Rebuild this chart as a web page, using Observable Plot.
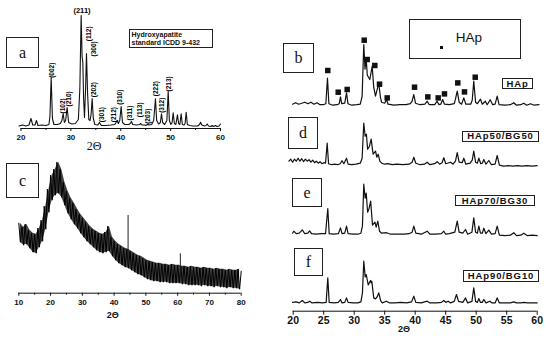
<!DOCTYPE html>
<html><head><meta charset="utf-8">
<script src="https://cdn.jsdelivr.net/npm/d3@7"></script>
<script src="https://cdn.jsdelivr.net/npm/@observablehq/plot@0.6"></script>
<style>
body{margin:0;background:#fff;}
#fig{position:relative;width:550px;height:338px;overflow:hidden;background:#fff;font-family:Arial,"Liberation Sans",sans-serif;color:#111;}
.box{position:absolute;border:1px solid #222;box-sizing:border-box;display:flex;align-items:center;justify-content:center;background:#fff;}
.let{font-family:"Liberation Serif","DejaVu Serif",serif;font-size:16px;line-height:1;}
.tag{position:absolute;border:1px solid #222;box-sizing:border-box;display:flex;align-items:center;justify-content:center;font-weight:bold;font-size:9.5px;letter-spacing:0.9px;background:#fff;line-height:1;}
.lab{position:absolute;transform:translate(-50%,-50%);white-space:nowrap;line-height:1;}
</style></head><body><div id="fig"></div>
<script>
// ---------- DATA ----------
// Panel a: Hydroxyapatite standard ICDD 9-432 (2θ, intensity a.u.)
const patternA = [[19.6,2.5],[20.3,3.5],[21.0,2.5],[21.6,3.5],[22.0,10],[22.35,3.5],[22.8,3.5],[23.1,8],[23.4,3],[24.2,3.5],[25.0,3],[25.6,4],[25.8,12],[26.05,51],[26.3,10],[26.6,4],[27.3,4],[27.9,5],[28.2,8],[28.45,15],[28.7,6],[28.95,8],[29.25,21],[29.55,6],[30.2,4.5],[30.9,5],[31.5,9],[31.8,40],[32.06,113],[32.25,72],[32.4,66],[32.55,30],[32.73,11],[32.95,40],[33.13,75],[33.35,35],[33.6,9],[33.85,8],[34.05,14],[34.27,30],[34.5,10],[34.8,4],[35.4,3.5],[35.74,6],[36.1,3],[37.0,3],[38.0,3.5],[38.8,4],[39.05,6],[39.28,8],[39.5,5],[39.8,8],[40.08,22],[40.35,6],[40.8,4],[41.6,4],[41.9,5],[42.15,7],[42.4,4],[43.2,3.5],[43.8,4],[44.02,5],[44.25,3.5],[44.8,3.5],[45.0,3],[45.2,3.5],[45.42,4.5],[45.65,3.5],[46.2,4],[46.6,8],[46.96,29.7],[47.2,8],[47.6,4.5],[47.95,6],[48.17,14.7],[48.4,6],[48.8,4],[49.25,8],[49.51,37],[49.75,8],[50.05,4],[50.3,6],[50.51,15.7],[50.75,5],[51.05,4],[51.37,13.7],[51.6,5],[51.85,4],[52.11,14.7],[52.35,4],[52.7,3.5],[52.9,5],[53.12,16.3],[53.35,4],[53.8,3],[54.5,2.5],[55.4,2.5],[55.8,4],[56.0,6.3],[56.25,3.5],[56.8,2.5],[57.1,3],[57.33,4.5],[57.6,2.5],[58.1,2],[58.33,3],[58.6,2],[58.8,2.5],[59.0,3],[59.3,2],[59.7,2.5],[60.0,4.5]];
const hklLabels = ["(002)","(102)","(210)","(112)","(300)","(202)","(301)","(212)","(310)","(311)","(113)","(203)","(222)","(312)","(213)"];
const hklTheta  = [26.17,28.46,29.66,33.59,34.68,34.6,36.14,38.6,39.75,41.85,43.86,45.36,47.07,48.27,49.71];
const hklLevel  = [50.7,15,22,87.3,72,31.3,6.3,6.3,23.7,8,11.3,4.7,32.3,15.7,37];
const mainLabel = {lab:"(211)", t:32.23, lv:118};
const ticksA = [20,30,40,50,60];
const minorA = [25,35,45,55];

// Panel c: glass (BG) amorphous pattern, upper / lower noise envelope
const cTopDeg = d3.range(10, 81, 1);
const cTop = [70,66,69,63,60,59,65,73,87,104, 118,124,131,124,111,102,95,90,84,79, 75,71,67,64,62,60,59,61,67,56, 52,49,47,45,44,42,40,38,37,35, 33,32,31,30,30,29,29,28,29,28, 28,27,27,26,27,26,26,25,26,25, 25,24,25,24,24,23,24,23,23,24,22];
const cBotDeg = d3.range(10.5, 80, 1);
const cBot = [51,48,49,45,41,40,46,52,64,81, 93,98,100,96,88,80,74,69,65,60, 56,52,49,46,43,41,40,41,42,37, 33,30,28,26,25,23,21,19,18,16, 14,13,12,12,11,11,11,10,10,10, 10,9,9,8,8,8,8,7,8,7, 7,6,7,6,6,5,6,5,5,4];
const cSpikeTheta = [22.07,38.3,44.4,60.85];
const cSpikeLow   = [100,45,28,15];
const cSpikeHigh  = [128.7,61,77.7,39.4];
const ticksC = [10,20,30,40,50,60,70,80];
const minorC = [15,25,35,45,55,65,75];

// Panels b, d, e, f (2θ, intensity above own baseline)
const sampleNames = ["HAp","HAp50/BG50","HAp70/BG30","HAp90/BG10"];
const sampleOffset = [206,147,77,8.3];
const patternB = [[19.9,1],[20.4,2.5],[20.9,1],[21.4,2],[21.9,3],[22.4,1.5],[22.9,3],[23.4,1],[23.9,2.5],[24.4,0.5],[24.9,0.5],[25.35,1.5],[25.62,27],[25.85,1.5],[26.5,0],[27.2,0.5],[27.55,1.5],[27.75,8.3],[27.95,1.5],[28.45,2],[28.74,12.3],[28.98,1.5],[29.6,0],[30.4,0.5],[31.0,1],[31.3,9],[31.57,60.7],[31.77,36],[31.97,46],[32.15,30],[32.56,25.7],[32.95,39],[33.2,18],[33.49,9],[34.03,22],[34.3,8],[34.48,3],[35.0,2],[35.3,5.7],[35.55,1],[36.5,0],[37.5,0.5],[38.5,0.5],[39.2,1.5],[39.5,4],[39.77,10.7],[40.05,2],[40.8,0.5],[41.6,1],[41.97,4],[42.3,0.5],[43.2,0.5],[43.6,4],[43.9,0.5],[44.2,1],[44.5,5.7],[44.8,1],[45.6,0.5],[46.4,1.5],[46.6,6],[46.89,14],[47.2,3],[47.6,1],[47.97,7.3],[48.3,1],[49.1,1],[49.35,5],[49.6,24],[49.9,3],[50.2,1.5],[50.7,6],[51.0,1],[51.5,4],[51.8,0.5],[52.3,5.5],[52.7,0.5],[53.1,1],[53.44,9],[53.75,0.5],[54.7,0],[55.6,0.5],[56.16,2.5],[56.6,0],[57.3,0.5],[57.8,2],[58.3,0],[58.9,1.5],[59.5,0],[60.3,0.5]];
const patternD = [[19.3,3],[19.6,5],[19.9,2],[20.2,5],[20.5,3],[20.8,6],[21.1,3],[21.4,5.5],[21.7,2.5],[22.0,5],[22.3,3],[22.6,4.5],[22.9,2],[23.2,4],[23.5,1.5],[23.8,3],[24.1,1],[24.4,2.5],[24.7,0.5],[25.0,1.5],[25.3,1],[25.57,21],[25.8,0.5],[26.3,-0.5],[26.8,0],[27.3,-0.5],[27.7,0.5],[28.0,3.5],[28.3,0.5],[28.74,6],[29.0,0],[29.6,-0.5],[30.3,0],[31.0,1],[31.3,6],[31.57,41],[31.8,28],[32.0,30],[32.2,15],[32.5,18],[32.78,25],[33.1,10],[33.5,13],[33.7,7],[33.93,10],[34.2,3],[34.5,1],[35.0,0],[35.5,0.5],[36.2,-0.5],[37.0,0],[38.0,-0.5],[39.0,0],[39.5,2],[39.77,7],[40.1,1],[40.8,-0.5],[41.5,0],[41.97,2],[42.4,-0.5],[43.2,0.5],[43.6,2.5],[44.0,0],[44.4,1.5],[44.69,6.5],[45.0,0.5],[45.8,2],[46.2,0],[46.6,3],[46.89,11.5],[47.2,2],[47.7,1.5],[47.97,6],[48.3,0],[49.0,1],[49.35,4],[49.6,13],[49.9,2],[50.2,1],[50.43,6],[50.75,0.5],[51.0,1],[51.25,4.7],[51.6,0],[52.07,3.7],[52.5,-0.5],[53.1,0],[53.44,8.7],[53.8,-1],[54.5,-2],[55.3,-1.5],[56.0,-2],[56.8,-1.5],[57.5,-2],[58.3,-1.5],[59.2,-2],[60.0,-1.5]];
const patternE = [[19.9,1],[20.1,3],[20.5,0.5],[21.0,1],[21.5,4.3],[21.9,0.5],[22.4,1],[22.7,3.3],[23.0,0.5],[23.8,0],[24.6,0.5],[25.3,0.5],[25.67,25.7],[25.9,0.5],[26.6,0],[27.4,0.5],[27.75,6.3],[28.0,0.5],[28.45,1],[28.74,8],[29.0,0.5],[29.8,0],[30.6,0],[31.1,1],[31.35,8],[31.57,50],[31.8,36],[31.97,41],[32.2,22],[32.45,26],[32.7,33],[33.0,9],[33.4,12],[33.6,7],[33.87,13],[34.15,3],[34.5,1],[35.3,1.5],[36.0,0],[37.0,0],[38.2,0],[39.0,0.5],[39.5,2],[39.77,8],[40.1,1],[41.0,0],[41.97,3],[42.4,0],[43.3,0],[44.3,0.5],[44.69,3],[45.0,0],[45.6,0.5],[46.5,2],[46.89,13],[47.2,2],[47.8,1],[48.25,4.7],[48.6,0],[49.3,2],[49.6,16.3],[49.9,2],[50.2,1],[50.43,8],[50.7,1],[51.0,1],[51.25,6],[51.6,0.5],[52.07,4],[52.5,0],[53.1,0.5],[53.44,8],[53.8,-1],[54.7,-1.5],[55.6,-1],[56.16,1.5],[56.6,-1.5],[57.3,-1],[57.8,1],[58.4,-1.5],[59.2,-1],[60.0,-1.5]];
const patternF = [[19.9,0.5],[20.5,1],[21.0,0],[21.5,2.4],[21.9,0],[22.4,0.5],[22.7,1.7],[23.1,0],[24.0,0.5],[24.8,0],[25.4,0.5],[25.67,25],[25.9,0.5],[26.7,0],[27.4,0.5],[27.75,3.4],[28.0,0],[28.45,0.5],[28.74,5],[29.0,0.5],[29.8,0],[30.6,0],[31.1,1],[31.35,10],[31.57,41.7],[31.8,26],[31.97,28.4],[32.3,18],[32.67,22.4],[32.78,20],[32.89,21.7],[33.2,5],[33.5,4],[33.75,6],[34.03,10],[34.35,2],[34.6,0],[35.3,1.7],[35.8,0],[36.7,0],[37.6,0.5],[38.6,0],[39.4,1],[39.77,6.7],[40.1,0.5],[41.0,0],[41.97,1.7],[42.4,0],[43.5,0],[44.3,0.5],[44.69,2.4],[45.0,0.5],[45.41,1.7],[45.8,0],[46.4,1.5],[46.77,8.4],[47.1,1.5],[47.8,0.5],[48.25,5],[48.6,0],[49.3,1.5],[49.6,15],[49.9,1.5],[50.2,0.5],[50.43,4.4],[50.7,0.5],[51.0,0.5],[51.25,3.4],[51.6,0],[52.23,1.7],[52.6,0],[53.1,0],[53.44,5],[53.8,0],[54.7,0],[55.6,0],[56.16,1],[56.6,0],[57.3,0],[57.8,0.5],[58.4,0],[59.2,0],[60.0,0]];
const hapMarkerTheta = [25.67,27.38,28.85,31.64,32.13,33.38,34.15,35.41,39.89,42.07,43.77,44.8,46.98,48.08,49.84];
const hapMarkerLevel = [34.7,13,15.7,65,45.7,39.7,21,7.3,18,8.3,7.3,11.3,22.3,13.3,28];
const ticksR = [20,25,30,35,40,45,50,55,60];

// ---------- BUILD ----------
const fig = document.getElementById("fig");
function put(node, left, top){ node.style.position="absolute"; node.style.left=left+"px"; node.style.top=top+"px"; fig.appendChild(node); return node; }
function html(tag, cls, text, css){ const n=document.createElement(tag); if(cls) n.className=cls; if(text!=null) n.textContent=text; Object.assign(n.style, css||{}); fig.appendChild(n); return n; }
const baseStyle = {fontFamily:"Arial, 'Liberation Sans', sans-serif", fontWeight:"bold", background:"transparent", overflow:"visible", color:"#111"};

// Panel a
const aRows = patternA.map(([t,h]) => ({t,h}));
const hklRows = hklLabels.map((lab,i) => ({lab, t:hklTheta[i], lv:hklLevel[i]}));
const plotA = Plot.plot({
  width: 240, height: 150, marginLeft: 20.5, marginRight: 20, marginTop: 0, marginBottom: 22,
  x: {domain:[20,60], axis:null}, y: {domain:[0,128], axis:null},
  style: {...baseStyle, fontSize:"8px"},
  marks: [
    Plot.axisX({ticks: ticksA, tickSize: 3, tickPadding: 3.3, label: null, fontSize: 8}),
    Plot.axisX({ticks: minorA, tickSize: 2, tickFormat: () => "", label: null}),
    Plot.ruleY([0], {stroke:"#111", strokeWidth:1}),
    Plot.line(aRows, {x:"t", y:"h", stroke:"#111", strokeWidth:1.1}),
    Plot.text(hklRows, {x:"t", y:"lv", text:"lab", rotate:-90, textAnchor:"start", fontSize:6.5, fill:"#000"}),
    Plot.text([mainLabel], {x:"t", y:"lv", text:"lab", fontSize:7.5, fill:"#000"})
  ]
});
put(plotA, 0, 0);

// Panel c
const cRows = [];
cTopDeg.forEach((t,i) => { cRows.push({t, h:cTop[i]}); if (i < cBot.length) cRows.push({t:cBotDeg[i], h:cBot[i]}); });
const cBand = cBot.map((b,i) => ({t:cBotDeg[i], lo:b, hi:cTop[i]}));
const spikeRows = cSpikeTheta.map((t,i) => ({t, lo:cSpikeLow[i], hi:cSpikeHigh[i]}));
const plotC = Plot.plot({
  width: 250, height: 175, marginLeft: 18.3, marginRight: 9.3, marginTop: 0, marginBottom: 32.3,
  x: {domain:[10,80], axis:null}, y: {domain:[0,142.7], axis:null},
  style: {...baseStyle, fontSize:"8px"},
  marks: [
    Plot.axisX({ticks: ticksC, tickSize: 3, tickPadding: 3.5, label: null, fontSize: 8}),
    Plot.axisX({ticks: minorC, tickSize: 2, tickFormat: () => "", label: null}),
    Plot.ruleY([0], {stroke:"#111", strokeWidth:1}),
    Plot.areaY(cBand, {x:"t", y1:"lo", y2:"hi", fill:"#111", fillOpacity:0.8}),
    Plot.line(cRows, {x:"t", y:"h", stroke:"#000", strokeWidth:1}),
    Plot.ruleX(spikeRows, {x:"t", y1:"lo", y2:"hi", stroke:"#222", strokeWidth:1})
  ]
});
put(plotC, 0, 150);

// Right panel b, d, e, f
const patterns = [patternB, patternD, patternE, patternF];
const rRows = patterns.flatMap((p, k) => p.map(([t,h]) => ({s: sampleNames[k], t, y: h + sampleOffset[k]})));
const markRows = hapMarkerTheta.map((t,i) => ({t, y: hapMarkerLevel[i] + sampleOffset[0]}));
const plotR = Plot.plot({
  width: 280, height: 338, marginLeft: 22.7, marginRight: 13.3, marginTop: 0, marginBottom: 27.3,
  x: {domain:[20,60], axis:null}, y: {domain:[0,310.7], axis:null},
  style: {...baseStyle, fontSize:"10.5px"},
  marks: [
    Plot.axisX({ticks: ticksR, tickSize: 4, tickPadding: 1, label: null, fontSize: 10.5}),
    Plot.ruleY([0], {stroke:"#111", strokeWidth:1}),
    Plot.line(rRows, {x:"t", y:"y", z:"s", stroke:"#111", strokeWidth:1.2}),
    Plot.dot(markRows, {x:"t", y:"y", symbol:"square", r:3.1, fill:"#111", stroke:null})
  ]
});
put(plotR, 270, 0);

// Annotation boxes and labels
function letterBox(letter, left, top, w, h){ const b = html("div","box",null,{left:left+"px",top:top+"px",width:w+"px",height:h+"px"}); const s=document.createElement("span"); s.className="let"; s.textContent=letter; b.appendChild(s); }
letterBox("a", 6, 37, 33, 31);
letterBox("c", 6, 163, 33, 35);
letterBox("b", 283, 43, 31, 30);
letterBox("d", 288, 117, 30, 32);
letterBox("e", 292, 178, 30, 29);
letterBox("f", 294, 248, 29, 28);

// ICDD legend
const leg = html("div", null, null, {position:"absolute", left:"129px", top:"29px", width:"84px", height:"19px", border:"1px solid #222", boxSizing:"border-box", fontSize:"7px", fontWeight:"bold", lineHeight:"8px", padding:"1px 0 0 1.5px", whiteSpace:"nowrap", background:"#fff"});
leg.innerHTML = "Hydroxyapatite<br>standard ICDD 9-432";

// HAp marker legend
html("div", null, null, {position:"absolute", left:"409px", top:"19px", width:"112px", height:"40px", border:"1px solid #222", boxSizing:"border-box", background:"#fff"});
html("div", null, null, {position:"absolute", left:"440px", top:"45.8px", width:"3.2px", height:"3.2px", background:"#111"});
html("div", "lab", sampleNames[0], {left:"469px", top:"37.5px", fontSize:"13.5px"});

// sample tags
function tag(text, left, top, w, h){ html("div","tag",text,{left:left+"px",top:top+"px",width:w+"px",height:h+"px"}); }
tag(sampleNames[0], 502, 78, 31, 11);
tag(sampleNames[1], 462, 130.5, 77, 11);
tag(sampleNames[2], 455, 195, 80, 11);
tag(sampleNames[3], 463, 269.5, 76, 12);

// axis titles
html("div","lab","2Θ",{left:"94px", top:"146px", fontFamily:"'Liberation Serif','DejaVu Serif',serif", fontSize:"12px"});
html("div","lab","2Θ",{left:"112.7px", top:"315px", fontWeight:"bold", fontSize:"9px"});
html("div","lab","2Θ",{left:"404px", top:"329px", fontWeight:"bold", fontSize:"9px"});
</script></body></html>
